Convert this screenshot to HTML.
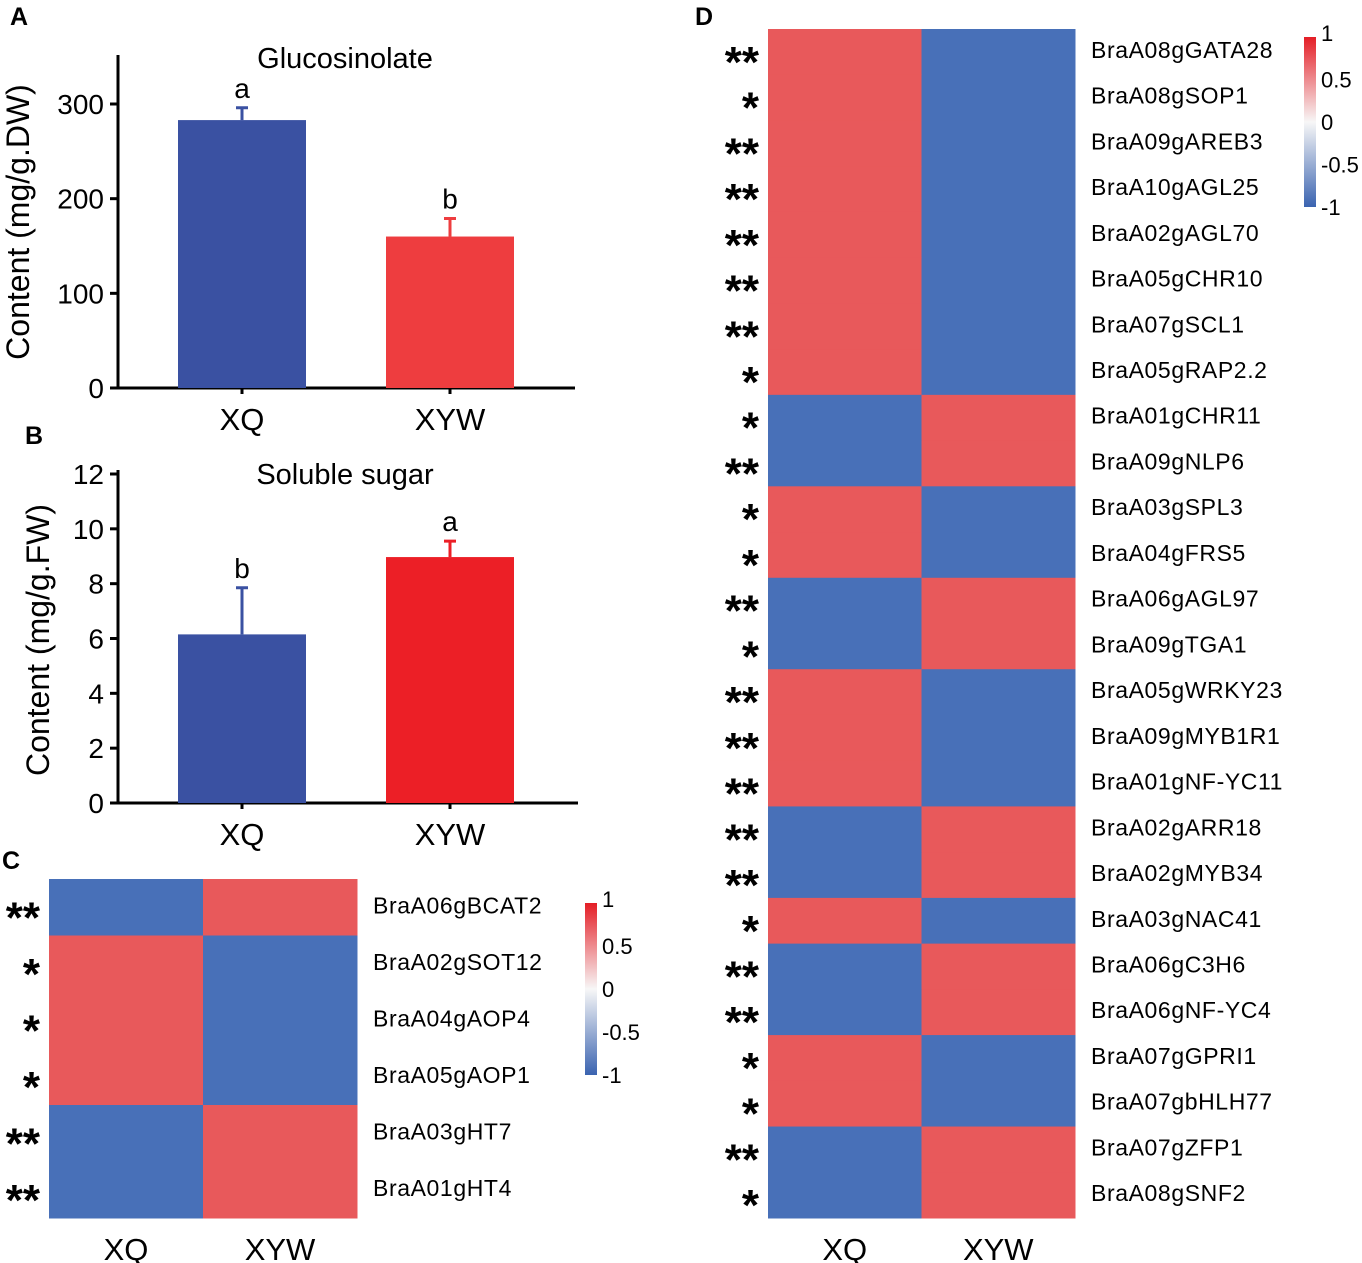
<!DOCTYPE html>
<html><head><meta charset="utf-8"><style>
html,body{margin:0;padding:0;background:#fff;}
svg{display:block;font-family:"Liberation Sans",Arial,sans-serif;}
</style></head><body>
<svg id="fig" width="1362" height="1263" viewBox="0 0 1362 1263" xmlns="http://www.w3.org/2000/svg">
<defs>
<linearGradient id="cb" x1="0" y1="1" x2="0" y2="0">
<stop offset="0" stop-color="#3a63b0"/><stop offset="0.5" stop-color="#f7f7f7"/><stop offset="1" stop-color="#e41e26"/>
</linearGradient>
</defs>
<text x="10" y="25" font-size="25" font-weight="bold">A</text>
<text x="25" y="444" font-size="25" font-weight="bold">B</text>
<text x="2" y="869" font-size="25" font-weight="bold">C</text>
<text x="695" y="25" font-size="25" font-weight="bold">D</text>
<g id="g"></g>
</svg>
<script>
const NS='http://www.w3.org/2000/svg';
const g=document.getElementById('g');
function el(t,a,txt){const e=document.createElementNS(NS,t);for(const k in a)e.setAttribute(k,a[k]);if(txt!==undefined)e.textContent=txt;g.appendChild(e);return e;}

// ---- bar chart data ----
const barCats=['XQ','XYW'];
const glucoValues=[283,160];
const glucoErrors=[13,19];
const glucoLetters=['a','b'];
const glucoTicks=[0,100,200,300];
const sugarValues=[6.15,8.97];
const sugarErrors=[1.7,0.58];
const sugarLetters=['b','a'];
const sugarTicks=[0,2,4,6,8,10,12];

// ---- heatmap data (1 = high, -1 = low) ----
const cGenes=['BraA06gBCAT2','BraA02gSOT12','BraA04gAOP4','BraA05gAOP1','BraA03gHT7','BraA01gHT4'];
const cXQ=[-1,1,1,1,-1,-1];
const cXYW=[1,-1,-1,-1,1,1];
const cStars=['**','*','*','*','**','**'];
const dGenes=['BraA08gGATA28','BraA08gSOP1','BraA09gAREB3','BraA10gAGL25','BraA02gAGL70','BraA05gCHR10','BraA07gSCL1','BraA05gRAP2.2','BraA01gCHR11','BraA09gNLP6','BraA03gSPL3','BraA04gFRS5','BraA06gAGL97','BraA09gTGA1','BraA05gWRKY23','BraA09gMYB1R1','BraA01gNF-YC11','BraA02gARR18','BraA02gMYB34','BraA03gNAC41','BraA06gC3H6','BraA06gNF-YC4','BraA07gGPRI1','BraA07gbHLH77','BraA07gZFP1','BraA08gSNF2'];
const dXQ=[1,1,1,1,1,1,1,1,-1,-1,1,1,-1,-1,1,1,1,-1,-1,1,-1,-1,1,1,-1,-1];
const dXYW=dXQ.map(v=>-v);
const dStars=['**','*','**','**','**','**','**','*','*','**','*','*','**','*','**','**','**','**','**','*','**','**','*','*','**','*'];

function barPanel(o){
  const y=v=>o.y0-(v-o.min)/(o.max-o.min)*(o.y0-o.yTop);
  const xc=i=>o.xc[i];
  el('line',{x1:o.ax,y1:o.axTop,x2:o.ax,y2:o.y0+1,stroke:'#000','stroke-width':3,});
  el('line',{x1:o.ax-5,y1:o.y0,x2:o.xEnd,y2:o.y0,stroke:'#000','stroke-width':3,});
  o.ticks.forEach(t=>{
    const l=el('line',{x1:o.ax-8,y1:y(t),x2:o.ax,y2:y(t),stroke:'#000','stroke-width':3});
    
    
    const tx=el('text',{x:o.ax-14,y:y(t)+10,'font-size':28,'text-anchor':'end'},String(t));
    
    
  });
  o.vals.forEach((v,i)=>{
    const r=el('rect',{x:xc(i)-64,y:y(v),width:128,height:o.y0-y(v),fill:o.colors[i]});
    
    
    const et=y(v+o.errs[i]);
    const e=el('path',{d:`M${xc(i)} ${y(v)} V${et} M${xc(i)-6} ${et} H${xc(i)+6}`,stroke:o.colors[i],'stroke-width':3,fill:'none'});
    
    
    const lt=el('text',{x:xc(i),y:et-10,'font-size':28,'text-anchor':'middle'},o.letters[i]);
    
    
    const tk=el('line',{x1:xc(i),y1:o.y0,x2:xc(i),y2:o.y0+6,stroke:'#000','stroke-width':3});
    
    
    const xl=el('text',{x:xc(i),y:o.y0+42,'font-size':31,'text-anchor':'middle'},barCats[i]);
    
    
  });
  const t=el('text',{x:345,y:o.titleY,'font-size':29,'text-anchor':'middle'},o.title);
  
  
  const yt=el('text',{x:0,y:0,'font-size':32,'text-anchor':'middle',transform:`translate(${o.ytX},${o.ytY}) rotate(-90)`},o.ytitle);
  
  
}
barPanel({id:'glucosinolate',vals:glucoValues,errs:glucoErrors,letters:glucoLetters,ticks:glucoTicks,min:0,max:300,y0:388,yTop:104,axTop:55,ax:118,xEnd:575,xc:[242,450],colors:['#3a51a2','#ee3d3f'],title:'Glucosinolate',titleY:68,ytitle:'Content (mg/g.DW)',ytX:29,ytY:222});
barPanel({id:'soluble-sugar',vals:sugarValues,errs:sugarErrors,letters:sugarLetters,ticks:sugarTicks,min:0,max:12,y0:803,yTop:474,axTop:470,ax:118,xEnd:578,xc:[242,450],colors:['#3a51a2','#ec1f26'],title:'Soluble sugar',titleY:484,ytitle:'Content (mg/g.FW)',ytX:49,ytY:640});

const RED='#e8595b',BLUE='#4870b8';
function heat(o){
  const n=o.genes.length, rh=(o.y1-o.y0)/n, cw=(o.x1-o.x0)/2;
  o.genes.forEach((gname,i)=>{
    [o.a,o.b].forEach((arr,j)=>{
      const r=el('rect',{x:o.x0+j*cw,y:o.y0+i*rh,width:cw+0.5,height:rh+0.5,fill:arr[i]>0?RED:BLUE});
      
      
    });
    const t=el('text',{x:o.x1+16,y:o.y0+i*rh+rh/2+6,'font-size':23,'letter-spacing':'0.6'},gname);
    
    
    const s=el('text',{x:o.starX,y:o.y0+i*rh+rh/2+25,'font-size':44,'text-anchor':'end','font-weight':'bold'},o.stars[i]);
    
    
  });
  ['XQ','XYW'].forEach((c,j)=>{
    const t=el('text',{x:o.x0+cw*j+cw/2,y:o.y1+42,'font-size':31,'text-anchor':'middle'},c);
    
    
  });
  const cb=el('rect',{x:o.cbx,y:o.cby0,width:12,height:o.cby1-o.cby0,fill:'url(#cb)'});
  
  
  ['1','0.5','0','-0.5','-1'].forEach((l,k)=>{
    const t=el('text',{x:o.cbx+17,y:o.cby0+k*(o.cby1-o.cby0)/4+(k==0?4:k==4?8:8),'font-size':22},l);
    
    
  });
}
heat({id:'heatmap-c',genes:cGenes,a:cXQ,b:cXYW,stars:cStars,x0:49,x1:357,y0:879,y1:1218,starX:40,cbx:585,cby0:903,cby1:1075});
heat({id:'heatmap-d',genes:dGenes,a:dXQ,b:dXYW,stars:dStars,x0:768,x1:1075,y0:29,y1:1218,starX:759,cbx:1304,cby0:37,cby1:207});
</script>
</body></html>
